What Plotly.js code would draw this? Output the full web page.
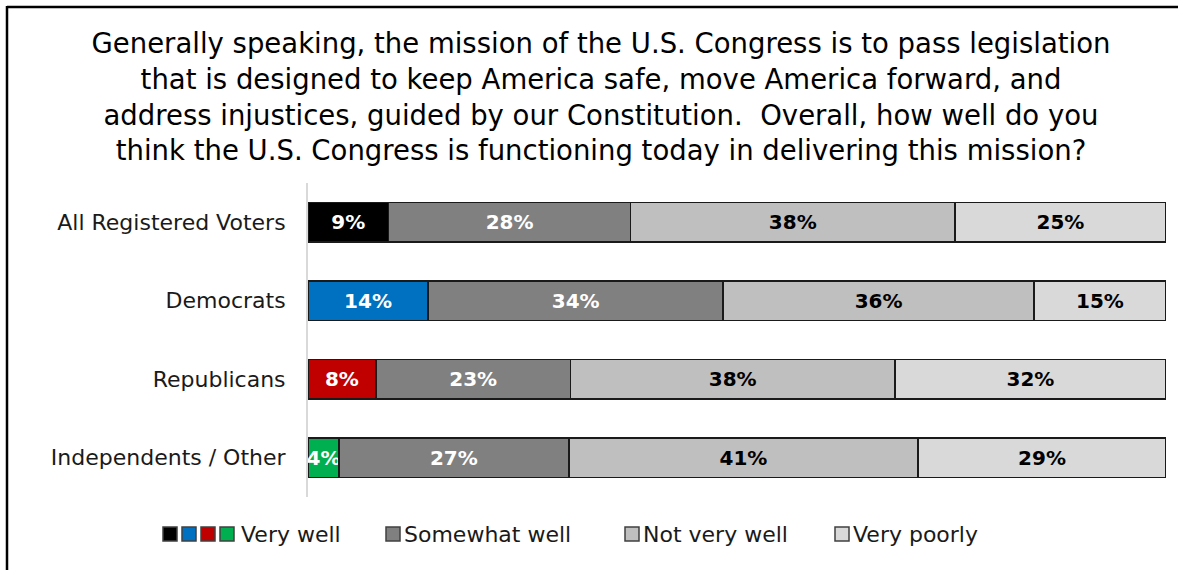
<!DOCTYPE html>
<html>
<head>
<meta charset="utf-8">
<script src="https://cdn.plot.ly/plotly-3.0.1.min.js"></script>
<style>html,body{margin:0;padding:0;background:#fff;}</style>
</head>
<body>
<div id="chart" style="width:1178px;height:570px;"></div>
<script>
const categories = ['All Registered Voters', 'Democrats', 'Republicans', 'Independents / Other'];
const veryWell = [9.4, 14.0, 7.9, 3.6];
const somewhatWell = [28.2, 34.4, 22.7, 26.8];
const notVeryWell = [37.8, 36.2, 37.8, 40.7];
const veryPoorly = [24.6, 15.4, 31.6, 28.9];
const veryWellColors = ['#000000', '#0070C0', '#C00000', '#00B050'];
const seriesNames = ['Very well', 'Somewhat well', 'Not very well', 'Very poorly'];
const titleLines = [
  'Generally speaking, the mission of the U.S. Congress is to pass legislation',
  'that is designed to keep America safe, move America forward, and',
  'address injustices, guided by our Constitution.  Overall, how well do you',
  'think the U.S. Congress is functioning today in delivering this mission?'
];

const FONT = 'DejaVu Sans, sans-serif';
const W = 1178, H = 570;
const M = {l: 308, r: 12, t: 183, b: 73};
const PW = W - M.l - M.r, PH = H - M.t - M.b;
const px = x => (x - M.l) / PW;
const py = y => (H - M.b - y) / PH;

function barTrace(vals, name, color, textColor) {
  return {
    type: 'bar', orientation: 'h', y: categories, x: vals, name: name,
    marker: {color: color, line: {color: '#1a1a1a', width: 1.6}},
    texttemplate: '%{x:.0f}%', textposition: 'inside', insidetextanchor: 'middle',
    constraintext: 'none', textangle: 0,
    textfont: {family: FONT, size: 20, color: textColor, weight: 'bold'},
    hoverinfo: 'none', showlegend: false
  };
}

const data = [
  barTrace(veryWell, seriesNames[0], veryWellColors, '#ffffff'),
  barTrace(somewhatWell, seriesNames[1], '#808080', '#ffffff'),
  barTrace(notVeryWell, seriesNames[2], '#BFBFBF', '#000000'),
  barTrace(veryPoorly, seriesNames[3], '#D9D9D9', '#000000')
];

// custom legend
const shapes = [];
const annotations = [];
const legY = 534, sq = 14;
const sqX = [163, 182, 201, 220];
veryWellColors.forEach((c, i) => {
  shapes.push({type: 'rect', xref: 'paper', yref: 'paper',
    x0: px(sqX[i]), x1: px(sqX[i] + sq), y0: py(legY + sq / 2), y1: py(legY - sq / 2),
    fillcolor: c, line: {color: '#404040', width: 1.5}});
});
const otherSq = [[386, '#808080'], [625, '#BFBFBF'], [835, '#D9D9D9']];
otherSq.forEach(([x, c]) => {
  shapes.push({type: 'rect', xref: 'paper', yref: 'paper',
    x0: px(x), x1: px(x + sq), y0: py(legY + sq / 2), y1: py(legY - sq / 2),
    fillcolor: c, line: {color: '#404040', width: 1.5}});
});
const textX = [239, 402, 641, 851];
seriesNames.forEach((n, i) => {
  annotations.push({xref: 'paper', yref: 'paper', x: px(textX[i]), y: py(legY),
    xanchor: 'left', yanchor: 'middle', text: n, showarrow: false,
    font: {family: FONT, size: 22, color: '#1a1a1a'}});
});
// frame (top and left edges only are visible)
shapes.push({type: 'line', xref: 'paper', yref: 'paper',
  x0: px(7), x1: px(1178), y0: py(7), y1: py(7),
  line: {color: '#000000', width: 2.5}, layer: 'above'});
shapes.push({type: 'line', xref: 'paper', yref: 'paper',
  x0: px(7), x1: px(7), y0: py(6), y1: py(570),
  line: {color: '#000000', width: 2.5}, layer: 'above'});

const layout = {
  width: W, height: H,
  margin: M,
  paper_bgcolor: '#ffffff', plot_bgcolor: '#ffffff',
  barmode: 'stack', bargap: 0.5,
  showlegend: false,
  title: {text: titleLines.join('<br>'), x: 601 / W, xanchor: 'center',
    y: 1 - 53 / H, yanchor: 'top', yref: 'container',
    font: {family: FONT, size: 27.5, color: '#000000'}},
  xaxis: {range: [0, 100], showgrid: false, zeroline: false, showticklabels: false,
    showline: false, fixedrange: true},
  yaxis: {type: 'category', autorange: 'reversed', showgrid: false, zeroline: false,
    showline: true, linecolor: '#D9D9D9', linewidth: 2, ticks: '',
    ticklabelstandoff: 16,
    tickfont: {family: FONT, size: 22, color: '#1a1a1a'}},
  shapes: shapes, annotations: annotations,
  font: {family: FONT}
};

Plotly.newPlot('chart', data, layout, {displayModeBar: false, staticPlot: true});
</script>
</body>
</html>
